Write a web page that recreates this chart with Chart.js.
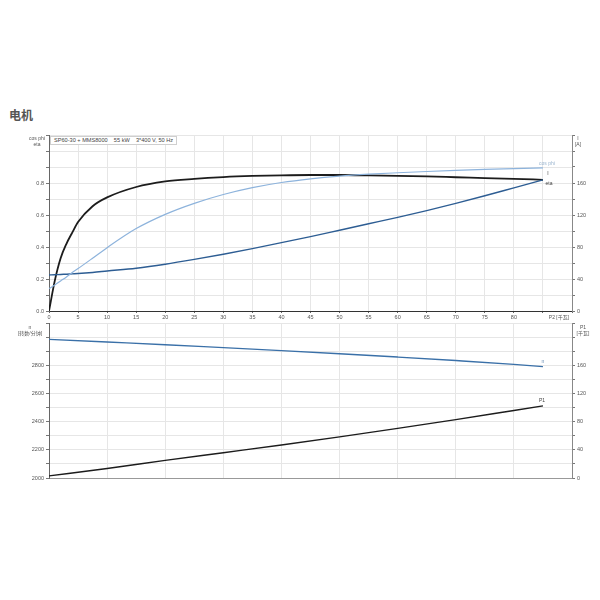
<!DOCTYPE html>
<html>
<head>
<meta charset="utf-8">
<script src="https://cdn.jsdelivr.net/npm/chart.js@4.4.1/dist/chart.umd.min.js"></script>
<style>
body { margin:0; background:#fff; width:600px; height:600px; position:relative; overflow:hidden; font-family:Arial, "Liberation Sans", sans-serif; }
.box { position:absolute; left:0; width:600px; }
#topBox { top:125px; height:200px; }
#botBox { top:318px; height:172px; }
h1 { position:absolute; left:9px; top:106px; margin:0; font:bold 12px "Noto Sans CJK SC", sans-serif; color:#555; }
.lbl { position:absolute; font-size:5px; line-height:6px; color:#555; text-align:center; white-space:nowrap; transform:translateX(-50%); font-family:Arial, "Noto Sans CJK SC", sans-serif; }
#info { position:absolute; left:50px; top:136px; border:1px solid #cfcfcf; background:#fff; font-size:5.6px; line-height:7px; padding:0 3px; color:#444; white-space:pre; }
</style>
</head>
<body>
<h1>电机</h1>
<div class="box" id="topBox"><canvas id="topChart"></canvas></div>
<div class="box" id="botBox"><canvas id="botChart"></canvas></div>
<div id="info">SP60-30 + MMS8000    55 kW    3*400 V, 50 Hz</div>
<div class="lbl" style="left:37px;top:135px">cos phi<br>eta</div>
<div class="lbl" style="left:578px;top:135px">I<br>[A]</div>
<div class="lbl" style="left:559px;top:314px">P2 [千瓦]</div>
<div class="lbl" style="left:30px;top:324px">n<br>[转数/分钟]</div>
<div class="lbl" style="left:583px;top:324px">P1<br>[千瓦]</div>
<script>
// curve data
const p2 = [0, 1, 2, 3, 4, 5, 7.5, 10, 15, 20, 25, 30, 35, 40, 45, 50, 55, 60, 65, 70, 75, 80, 85];
const eta = [0, 0.19, 0.33, 0.42, 0.49, 0.556, 0.655, 0.71, 0.775, 0.81, 0.826, 0.837, 0.844, 0.848, 0.85, 0.85, 0.848, 0.845, 0.841, 0.836, 0.831, 0.826, 0.82];
const cosPhi = [0.14, 0.163, 0.188, 0.213, 0.24, 0.265, 0.33, 0.396, 0.515, 0.604, 0.673, 0.728, 0.771, 0.803, 0.826, 0.843, 0.855, 0.864, 0.872, 0.879, 0.885, 0.89, 0.895];
const current = [45, 45.3, 45.7, 46, 46.4, 46.8, 48.2, 50, 53.5, 58.5, 64.5, 71, 78, 85.5, 93, 101, 109, 117, 125.5, 134.5, 144, 154, 164];

const p2b = [0, 10, 20, 30, 40, 50, 60, 70, 80, 85];
const speed = [2986, 2967, 2948, 2927, 2906, 2884, 2860, 2835, 2808, 2792];
const p1 = [3, 13.5, 25, 36, 47, 58.5, 70.5, 83, 96, 102.5];

const GRID = '#e6e6e6';
const TICK_FONT = { size: 5.5, family: 'Arial' };

function pts(xs, ys) {
    return xs.map((x, i) => ({ x: x, y: ys[i] }));
}

// small text next to the last point of each curve
const endLabels = {
    id: 'endLabels',
    afterDatasetsDraw(chart) {
        const ctx = chart.ctx;
        chart.data.datasets.forEach((ds, i) => {
            if (!ds.endLabel) return;
            const meta = chart.getDatasetMeta(i);
            const pt = meta.data[meta.data.length - 1];
            ctx.save();
            ctx.font = '5px Arial';
            ctx.fillStyle = ds.endLabel.color;
            ctx.textAlign = 'center';
            ctx.textBaseline = 'middle';
            ctx.fillText(ds.endLabel.text, pt.x + ds.endLabel.dx, pt.y + ds.endLabel.dy);
            ctx.restore();
        });
    }
};

const lineDefaults = { pointRadius: 0, cubicInterpolationMode: 'monotone', fill: false };

// Top chart: eta / cos phi / I vs P2
new Chart(document.getElementById('topChart'), {
    type: 'line',
    data: {
        datasets: [
            { ...lineDefaults, label: 'cos phi', data: pts(p2, cosPhi), borderColor: '#8db3dc', borderWidth: 1.2, yAxisID: 'y',
              endLabel: { text: 'cos phi', color: '#9ab5cf', dx: 4, dy: -4 } },
            { ...lineDefaults, label: 'I', data: pts(p2, current), borderColor: '#2d5d93', borderWidth: 1.4, yAxisID: 'y1',
              endLabel: { text: 'I', color: '#444', dx: 5, dy: -6 } },
            { ...lineDefaults, label: 'eta', data: pts(p2, eta), borderColor: '#1c1c1c', borderWidth: 1.8, yAxisID: 'y',
              endLabel: { text: 'eta', color: '#444', dx: 6, dy: 4 } }
        ]
    },
    options: {
        responsive: true,
        maintainAspectRatio: false,
        animation: false,
        layout: { padding: { top: 10, left: 0, right: 0, bottom: 0 } },
        plugins: { legend: { display: false }, tooltip: { enabled: false } },
        scales: {
            x: {
                type: 'linear', min: 0, max: 90,
                afterFit: s => { s.height = 14; },
                border: { color: '#333', width: 1 },
                grid: { color: GRID, tickLength: 2, tickColor: '#666' },
                ticks: { stepSize: 5, autoSkip: false, maxRotation: 0, padding: 1, font: TICK_FONT, color: '#555',
                         callback: v => v <= 80 ? v : '' }
            },
            y: {
                position: 'left', min: 0, max: 1.1,
                afterFit: s => { s.width = 49; },
                border: { color: '#666', width: 1 },
                grid: { color: GRID, tickLength: 3, tickColor: '#777' },
                ticks: { stepSize: 0.1, autoSkip: false, padding: 2, font: TICK_FONT, color: '#555',
                         callback: v => (Math.round(v * 10) % 2 === 0 && v < 0.95) ? v.toFixed(1) : '' }
            },
            y1: {
                position: 'right', min: 0, max: 220,
                afterFit: s => { s.width = 28; },
                border: { color: '#888', width: 1 },
                grid: { drawOnChartArea: false, tickLength: 3, tickColor: '#777' },
                ticks: { stepSize: 20, autoSkip: false, padding: 2, font: TICK_FONT, color: '#555',
                         callback: v => (v % 40 === 0 && v <= 160) ? v : '' }
            }
        }
    },
    plugins: [endLabels]
});

// Bottom chart: speed n / P1 vs P2
new Chart(document.getElementById('botChart'), {
    type: 'line',
    data: {
        datasets: [
            { ...lineDefaults, label: 'n', data: pts(p2b, speed), borderColor: '#3a70a8', borderWidth: 1.4, yAxisID: 'y',
              endLabel: { text: 'n', color: '#6b8fb5', dx: 0, dy: -5 } },
            { ...lineDefaults, label: 'P1', data: pts(p2b, p1), borderColor: '#1c1c1c', borderWidth: 1.4, yAxisID: 'y1',
              endLabel: { text: 'P1', color: '#444', dx: -1, dy: -5 } }
        ]
    },
    options: {
        responsive: true,
        maintainAspectRatio: false,
        animation: false,
        layout: { padding: { top: 5, left: 0, right: 0, bottom: 0 } },
        plugins: { legend: { display: false }, tooltip: { enabled: false } },
        scales: {
            x: {
                type: 'linear', min: 0, max: 90,
                afterFit: s => { s.height = 12; },
                border: { color: '#999', width: 1 },
                grid: { color: GRID, drawTicks: false },
                ticks: { stepSize: 10, display: false }
            },
            y: {
                position: 'left', min: 2000, max: 3100,
                afterFit: s => { s.width = 49; },
                border: { color: '#666', width: 1 },
                grid: { color: GRID, tickLength: 3, tickColor: '#777' },
                ticks: { stepSize: 100, autoSkip: false, padding: 2, font: TICK_FONT, color: '#555',
                         callback: v => (v % 200 === 0 && v <= 2800) ? v : '' }
            },
            y1: {
                position: 'right', min: 0, max: 220,
                afterFit: s => { s.width = 28; },
                border: { color: '#888', width: 1 },
                grid: { drawOnChartArea: false, tickLength: 3, tickColor: '#777' },
                ticks: { stepSize: 20, autoSkip: false, padding: 2, font: TICK_FONT, color: '#555',
                         callback: v => (v % 40 === 0 && v <= 160) ? v : '' }
            }
        }
    },
    plugins: [endLabels]
});
</script>
</body>
</html>
